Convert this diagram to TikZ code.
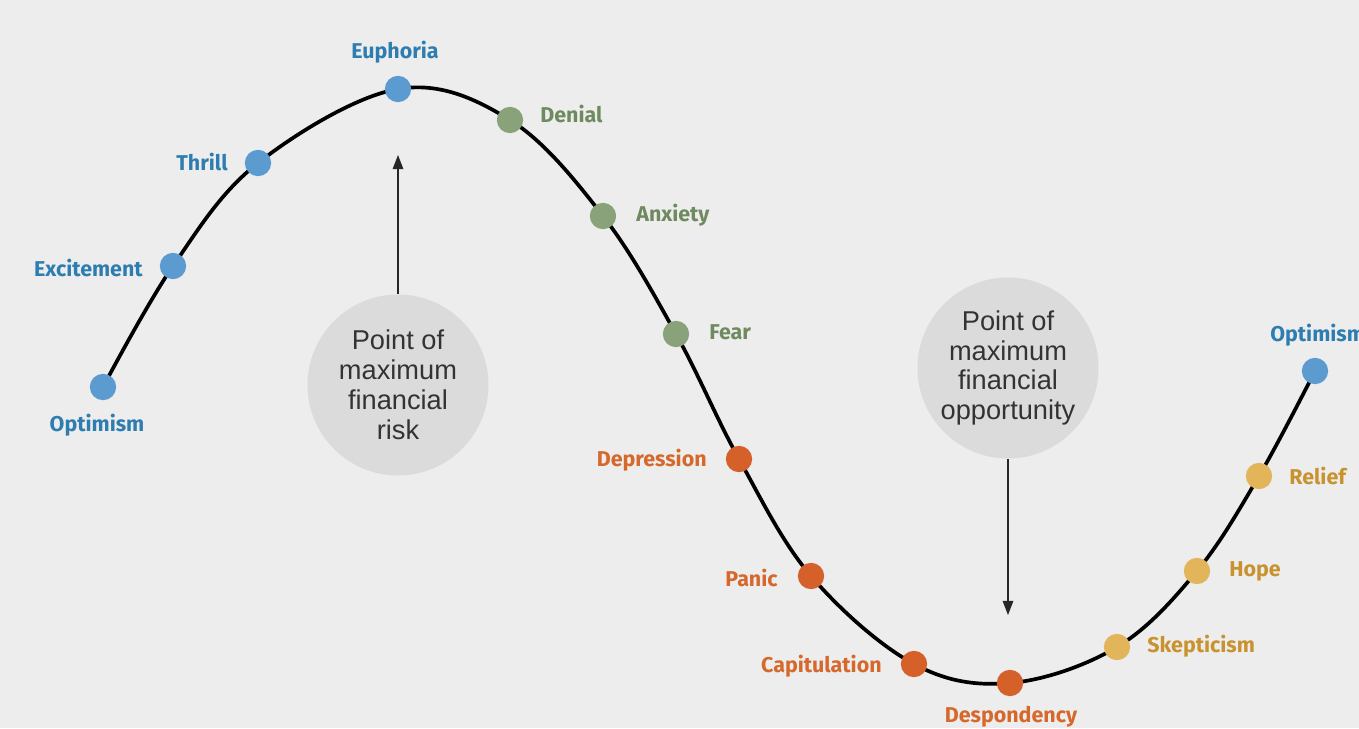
\documentclass[tikz,border=0pt]{standalone}
\usepackage{fontspec}
\usetikzlibrary{arrows.meta}
\newfontfamily\lblfont{Fira Sans}
\newfontfamily\boxfont{Liberation Sans}
\definecolor{bgc}{HTML}{EDEDEE}
\definecolor{dotblue}{HTML}{5B9BD0}
\definecolor{dotgreen}{HTML}{8AA27A}
\definecolor{dotorange}{HTML}{D5602A}
\definecolor{dotyellow}{HTML}{E3B55A}
\definecolor{txtblue}{HTML}{2E7DB0}
\definecolor{txtgreen}{HTML}{6E8A5E}
\definecolor{txtorange}{HTML}{D5682A}
\definecolor{txtyellow}{HTML}{C8922E}

\begin{document}
\begin{tikzpicture}[x=0.02cm,y=-0.02cm,
    dot/.style={circle,minimum size=15pt,inner sep=0pt},
    lbl/.style={font=\lblfont\bfseries\fontsize{12.2}{14}\selectfont,inner sep=0pt},
    bubble/.style={circle,fill=black!14,minimum size=103pt,inner sep=0pt,align=center,
        text=black!80,font=\boxfont\fontsize{15.5}{17}\selectfont},
    pointer/.style={black!85,line width=0.6pt,-{Triangle[width=6pt,length=8pt]}}]
        \fill[bgc] (0,0) rectangle (1359,728);
        \useasboundingbox (0,0) rectangle (1359,728);

        % points on the cycle
        \foreach \n/\x/\y in {p1/103/387,p2/173/266,p3/258/163,p4/398/89,p5/510/120,
            p6/603/216,p7/676/334,p8/739/459,p9/811/576,p10/914/664,p11/1010/683,
            p12/1117/647,p13/1197/571,p14/1259/476,p15/1315/371}{
            \coordinate (\n) at (\x,\y);
        }

        \draw[line width=2.1pt] plot[smooth,tension=0.6] coordinates
            {(p1) (p2) (p3) (p4) (p5) (p6) (p7) (p8) (p9) (p10) (p11) (p12) (p13) (p14) (p15)};

        \foreach \n/\c in {p1/dotblue,p2/dotblue,p3/dotblue,p4/dotblue,p5/dotgreen,
            p6/dotgreen,p7/dotgreen,p8/dotorange,p9/dotorange,p10/dotorange,
            p11/dotorange,p12/dotyellow,p13/dotyellow,p14/dotyellow,p15/dotblue}{
            \node[dot,fill=\c] (d\n) at (\n) {};
        }

        % labels
        \node[lbl,text=txtblue] (optA) at (97,425) {Optimism};
        \node[lbl,text=txtblue,anchor=east] (excite) at (143,268) {Excitement};
        \node[lbl,text=txtblue,anchor=east] (thrill) at (228,162) {Thrill};
        \node[lbl,text=txtblue] (euph) at (395,52) {Euphoria};
        \node[lbl,text=txtgreen,anchor=west] (denial) at (540,114) {Denial};
        \node[lbl,text=txtgreen,anchor=west] (anx) at (636,215) {Anxiety};
        \node[lbl,text=txtgreen,anchor=west] (fear) at (709,332) {Fear};
        \node[lbl,text=txtorange,anchor=east] (depr) at (707,460) {Depression};
        \node[lbl,text=txtorange,anchor=east] (panic) at (778,578) {Panic};
        \node[lbl,text=txtorange,anchor=east] (capit) at (882,666) {Capitulation};
        \node[lbl,text=txtorange] (despo) at (1011,717) {Despondency};
        \node[lbl,text=txtyellow,anchor=west] (skept) at (1147,646) {Skepticism};
        \node[lbl,text=txtyellow,anchor=west] (hope) at (1229,571) {Hope};
        \node[lbl,text=txtyellow,anchor=west] (relief) at (1289,476) {Relief};
        \node[lbl,text=txtblue,anchor=west] (optB) at (1270,335) {Optimism};

        % the two bubbles
        \node[bubble] (risk) at (398,385) {Point of\\maximum\\financial\\risk};
        \node[bubble] (opport) at (1008,368) {Point of\\maximum\\financial\\opportunity};

        \coordinate (risktip) at (398,155);
        \coordinate (opptip) at (1008,615);
        \draw[pointer] (risk.north) -- (risktip);
        \draw[pointer] (opport.south) -- (opptip);
\end{tikzpicture}
\end{document}
